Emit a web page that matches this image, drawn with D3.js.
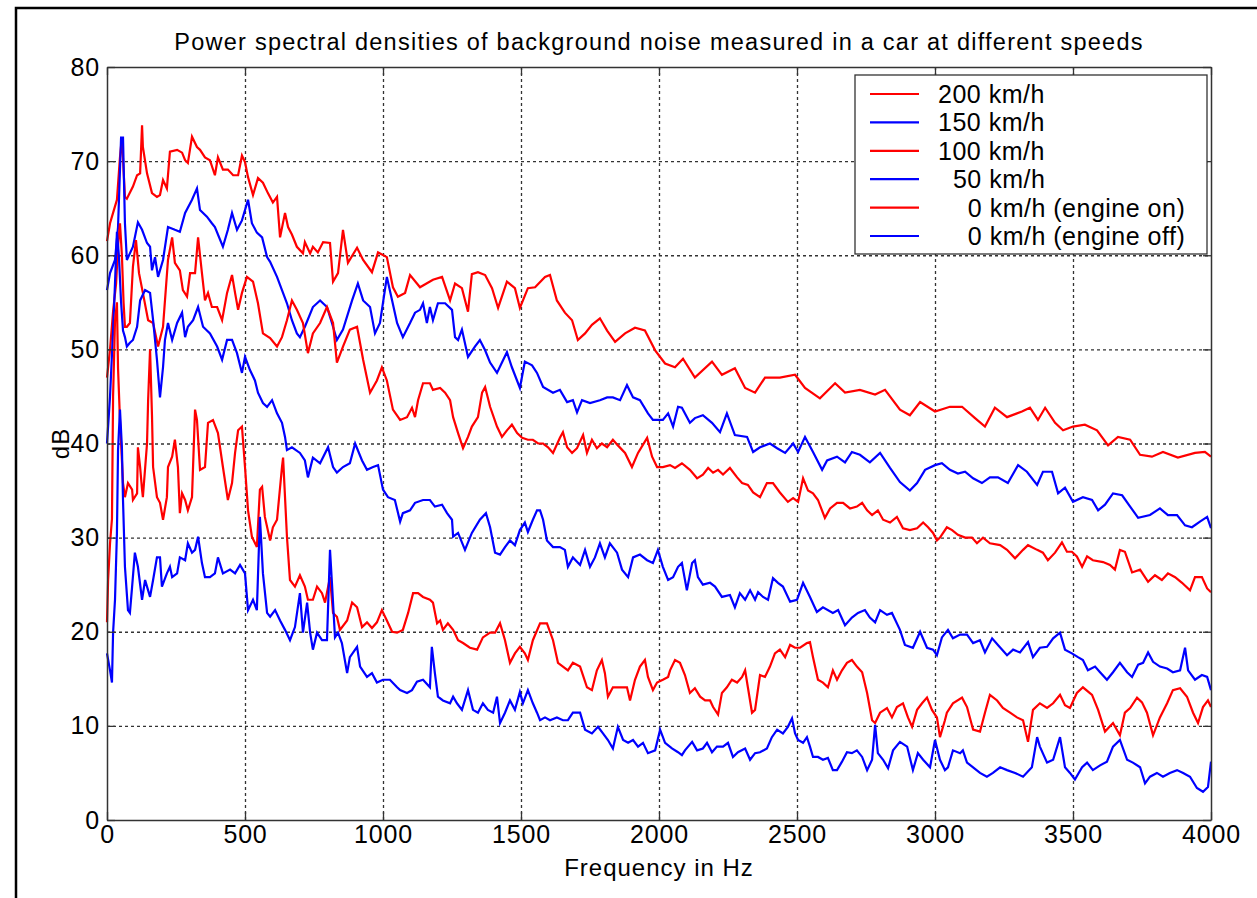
<!DOCTYPE html>
<html><head><meta charset="utf-8">
<script src="https://cdn.jsdelivr.net/npm/d3@7"></script>
<style>
body{margin:0;background:#fff;}
svg text{font-family:"Liberation Sans",Arial,sans-serif;fill:#000;}
</style></head>
<body>
<svg id="chart" width="1257" height="898"></svg>
<script>
const title = "Power spectral densities of background noise measured in a car at different speeds";
const xLabel = "Frequency in Hz";
const yLabel = "dB";
const xTicks = [0,500,1000,1500,2000,2500,3000,3500,4000];
const yTicks = [0,10,20,30,40,50,60,70,80];
const seriesLabels = ["200 km/h","150 km/h","100 km/h","  50 km/h","    0 km/h (engine on)","    0 km/h (engine off)"];
const seriesColors = ["#ff0000","#0000ff","#ff0000","#0000ff","#ff0000","#0000ff"];

const s200 = [[0,61.5],[11,63.4],[22,64.5],[36,65.9],[47,70.4],[54,72.5],[65,66.2],[72,66],[94,67.3],[109,68.5],[120,68.7],[127,73.8],[130,71.5],[145,68.7],[163,66.6],[181,66.2],[192,66.4],[203,68],[217,67.1],[228,71],[254,71.2],[272,70.9],[283,70.1],[293,69.8],[308,72.6],[326,71.5],[337,71.2],[355,70.4],[373,70.1],[391,68.5],[402,70.4],[420,69.1],[438,69.1],[457,68.5],[475,68.5],[489,70.6],[500,69.9],[511,68.3],[529,66.4],[547,68.2],[565,67.7],[583,66.6],[601,65.6],[616,66.2],[627,61.9],[645,64.5],[656,63],[670,62.2],[688,60.9],[710,60.2],[717,61.4],[736,60.2],[746,60.9],[764,60.3],[783,61.4],[808,61.3],[819,57.2],[837,58.1],[855,62.7],[873,59.2],[906,60.8],[928,59.5],[960,58.2],[982,60.3],[1014,59.8],[1036,56.6],[1054,55.6],[1080,56],[1098,57.9],[1123,57],[1134,56.6],[1181,57.4],[1214,57.7],[1243,55.2],[1261,57],[1286,56.5],[1308,54],[1322,58],[1344,58.2],[1370,57.9],[1395,56.5],[1417,54.4],[1449,57.2],[1478,56.5],[1496,54.4],[1525,56.5],[1551,56.6],[1587,57.7],[1605,57.9],[1630,55.2],[1659,53.9],[1685,53.1],[1706,51],[1732,51.7],[1757,52.6],[1786,53.3],[1812,52],[1841,50.8],[1877,51.7],[1913,52.3],[1949,52],[1986,49.9],[2022,48.5],[2058,48.1],[2087,49],[2130,47],[2192,48.7],[2228,47.3],[2275,48],[2312,45.9],[2348,45.4],[2384,47],[2438,47],[2493,47.3],[2529,45.9],[2583,44.8],[2638,46.4],[2674,45.4],[2728,45.7],[2783,45.2],[2819,45.7],[2873,43.6],[2909,43],[2946,44.4],[3000,43.4],[3054,43.9],[3098,43.9],[3145,42.7],[3181,41.8],[3217,43.8],[3261,42.8],[3315,43.4],[3344,43.8],[3373,42.5],[3399,43.8],[3435,42.2],[3464,41.4],[3500,41.8],[3543,42],[3587,41.4],[3627,39.8],[3663,40.7],[3707,40.4],[3743,38.8],[3786,38.6],[3826,39.1],[3880,38.5],[3942,39],[3978,39.1],[4000,38.6]];

const s150 = [[0,56.3],[11,58.1],[29,59.5],[40,63],[51,72.5],[58,72.5],[65,63.4],[72,59.5],[83,60.2],[94,60.9],[112,63.5],[127,62.7],[145,61.3],[156,60.9],[163,58.4],[174,59.8],[185,57.7],[203,59.5],[221,63],[246,62.7],[264,62.5],[283,64.5],[308,65.9],[326,67.1],[337,64.8],[362,64.1],[380,63.4],[391,63],[420,60.9],[438,62.7],[453,64.5],[471,62.7],[489,63.7],[511,65.9],[525,63.4],[543,62.4],[562,61.9],[580,59.8],[591,59.3],[616,57.7],[634,56.3],[652,54.9],[670,53.1],[688,51.7],[699,51.3],[717,52.4],[746,54.5],[772,55.2],[797,54.5],[815,52.8],[833,51],[855,52.1],[888,55.2],[909,57],[928,55.2],[953,54.5],[971,51.7],[989,52.8],[1014,57.7],[1033,55.2],[1051,52.8],[1072,51.3],[1098,52.8],[1116,53.9],[1134,54.2],[1145,54.9],[1159,52.8],[1170,54.5],[1181,53.1],[1199,54.9],[1225,54.9],[1250,54.2],[1261,51.3],[1272,51],[1286,52.1],[1308,49.2],[1333,50.3],[1351,51],[1370,49.9],[1388,48.6],[1413,47.5],[1431,48.6],[1449,49.7],[1467,48.1],[1496,45.9],[1514,48.7],[1540,48.3],[1558,47.5],[1580,46],[1616,45.4],[1641,45.7],[1667,44.4],[1688,44.6],[1703,43.3],[1721,44.6],[1750,44.3],[1786,44.6],[1812,44.9],[1833,44.9],[1859,44.6],[1884,46.2],[1906,44.9],[1931,44.6],[1960,43.2],[1978,42.5],[2014,42.5],[2033,43.2],[2051,41.8],[2069,43.9],[2083,43.8],[2112,42.2],[2130,42.7],[2159,43],[2192,42.2],[2221,41.2],[2246,43.2],[2275,40.9],[2319,40.7],[2341,39.1],[2366,39.6],[2402,40],[2428,39.5],[2457,39],[2486,40],[2504,39.1],[2529,40.7],[2558,39.1],[2591,37.2],[2609,38.2],[2645,38.6],[2674,38],[2699,39.1],[2728,38.8],[2764,38],[2801,39],[2837,37.4],[2873,35.9],[2909,35],[2935,35.8],[2964,37.2],[3000,37.7],[3025,37.9],[3054,37.2],[3083,36.8],[3109,37],[3138,36.3],[3170,35.8],[3199,36.4],[3228,36.4],[3264,35.8],[3301,37.7],[3333,37],[3370,35.6],[3391,37],[3424,37],[3446,34.7],[3471,35.3],[3500,33.8],[3536,34.3],[3569,34],[3591,32.9],[3616,33.5],[3645,34.7],[3678,34.5],[3707,33.3],[3736,32.1],[3779,32.4],[3815,33.1],[3844,32.4],[3877,32.4],[3906,31.3],[3931,31.1],[3960,31.7],[3986,32.2],[4000,31]];

const s100 = [[0,47],[11,50],[22,54],[33,57],[40,61],[47,63.4],[54,60],[60,55],[65,52.4],[72,52.4],[83,52.8],[94,58.8],[105,61.6],[116,58.1],[130,56],[149,53.1],[167,52.8],[185,50.3],[203,52.4],[221,59.5],[236,61.9],[246,59.2],[264,58.4],[275,56.3],[290,55.6],[301,58.1],[319,58.1],[330,61.9],[344,58.1],[355,55.2],[366,56],[380,54.5],[399,54.5],[417,53.1],[435,56],[453,57.9],[464,56],[475,54.2],[489,56],[507,57.7],[529,57.2],[547,54.9],[565,51.7],[591,51.2],[616,50.3],[634,51.3],[652,53.1],[670,55.2],[688,54.2],[710,52.8],[728,49.6],[746,51.7],[772,52.8],[797,54.5],[819,52.8],[833,48.6],[855,50.3],[880,52.1],[906,52.4],[928,48.9],[953,45.4],[978,46.7],[996,48.1],[1014,46.7],[1036,43.6],[1062,42.5],[1087,42.8],[1105,43.8],[1116,42.8],[1127,44.6],[1145,46.4],[1170,46.4],[1181,45.7],[1207,45.9],[1225,45.4],[1243,44.6],[1254,42.8],[1272,41.1],[1290,39.5],[1308,40.7],[1322,41.8],[1344,42.8],[1359,45.4],[1370,46],[1388,43.9],[1413,41.8],[1431,40.7],[1449,41.4],[1467,42],[1486,41.1],[1504,40.6],[1525,40.4],[1543,40.4],[1562,40],[1580,40],[1598,39.6],[1616,39],[1641,40.6],[1652,41.2],[1667,39.6],[1685,39],[1703,39.5],[1725,40.9],[1739,39],[1757,40.4],[1775,39.5],[1793,40],[1812,39.6],[1833,40.4],[1851,39.8],[1877,39],[1902,37.5],[1924,39],[1957,40.6],[1975,38.6],[1993,37.5],[2014,37.5],[2040,37.7],[2058,37.4],[2083,37.9],[2112,37.2],[2138,36.3],[2159,36.7],[2178,37.4],[2196,36.9],[2214,37.2],[2232,36.7],[2257,37.4],[2283,36.4],[2301,35.8],[2322,35.6],[2341,34.8],[2366,34.3],[2391,35.8],[2413,35.8],[2438,34.8],[2467,33.8],[2486,34.2],[2504,33.8],[2522,36.3],[2540,35],[2558,34.7],[2576,34],[2601,32.1],[2620,33.1],[2645,33.7],[2667,33.7],[2692,33.1],[2717,33.3],[2736,33.7],[2754,32.9],[2772,32.4],[2793,32.9],[2812,31.9],[2837,31.6],[2862,32.2],[2884,31],[2909,30.8],[2935,31],[2957,31.6],[2975,31.1],[2993,30.5],[3007,29.7],[3018,30],[3043,31.1],[3062,30.8],[3083,30.3],[3109,30],[3134,30],[3152,29.4],[3174,30],[3199,29.4],[3236,29.2],[3261,28.7],[3290,27.8],[3319,28.7],[3337,29.2],[3370,28.7],[3391,28.4],[3409,27.6],[3435,28.4],[3460,29.5],[3478,28.5],[3496,28.5],[3514,28],[3533,26.9],[3551,28],[3572,27.6],[3609,27.4],[3634,27.1],[3652,26.6],[3670,28.7],[3688,28.5],[3714,26.3],[3743,26.6],[3772,25.3],[3797,26],[3822,25.5],[3844,26.2],[3870,25.8],[3895,25.2],[3924,24.4],[3942,25.8],[3967,25.8],[3986,24.6],[4000,24.2]];

const s50 = [[0,40],[11,45],[22,52],[29,57],[36,62.5],[43,60],[51,55],[58,52],[65,51.3],[72,50.3],[83,50.7],[94,51],[109,52.4],[120,55.2],[138,56.3],[156,56],[167,53.1],[181,48.9],[192,44.9],[203,48.1],[210,51],[221,52.8],[236,51],[254,52.8],[272,53.9],[283,51.3],[293,52.4],[312,53.1],[330,54.5],[348,52.4],[373,51.7],[399,50.3],[417,48.9],[435,51],[453,51],[471,49.6],[489,47.5],[500,49.2],[518,47.8],[536,46.7],[547,45.4],[565,44.3],[580,43.9],[598,44.6],[616,43.2],[634,42.2],[645,40.7],[652,39.3],[670,39.6],[699,39],[717,38.2],[728,36.4],[746,38.5],[772,37.9],[801,39.6],[819,37.5],[833,36.9],[855,37.5],[880,37.9],[899,40],[924,38.2],[942,37.2],[964,37.5],[982,37.7],[1000,35.1],[1018,34.3],[1043,34],[1062,31.7],[1072,32.6],[1098,32.9],[1116,33.7],[1145,34],[1170,34],[1188,33.3],[1214,33.5],[1232,32.6],[1250,31.9],[1254,30.1],[1272,30.5],[1297,28.7],[1322,30.5],[1351,31.9],[1373,32.6],[1388,31.1],[1406,28.4],[1424,28.2],[1442,29],[1460,29.7],[1478,29.2],[1496,30.8],[1514,31.6],[1525,30.6],[1543,31.9],[1558,32.9],[1569,32.9],[1580,31.9],[1594,29.7],[1616,29],[1641,29],[1659,28.7],[1670,26.9],[1688,27.9],[1714,27.1],[1732,28.7],[1750,26.9],[1768,27.9],[1786,29.4],[1804,27.9],[1822,29.4],[1848,28.4],[1866,26.6],[1888,25.8],[1906,27.9],[1931,28.2],[1957,27.6],[1978,27.3],[1996,28.7],[2014,26.9],[2033,25.5],[2051,25.8],[2069,26.9],[2083,27.3],[2101,24.4],[2120,27.3],[2130,27.6],[2141,25.8],[2159,25],[2185,25.2],[2203,24.8],[2228,23.7],[2257,23.9],[2275,22.6],[2293,24.1],[2312,23.4],[2330,24.4],[2348,23.4],[2359,24.2],[2377,23.7],[2395,23.4],[2413,25.7],[2431,25.2],[2449,24.8],[2475,23.2],[2500,23.4],[2522,25.2],[2547,23.7],[2572,22.1],[2594,22.6],[2630,22],[2649,22.3],[2674,20.7],[2699,21.5],[2721,22],[2746,22.3],[2764,21.5],[2783,21],[2801,22.3],[2826,21.8],[2844,22],[2873,20.2],[2891,18.6],[2920,18.3],[2946,20],[2971,18.3],[2993,18.1],[3007,17.5],[3025,19.4],[3047,20.2],[3065,19.3],[3091,19.7],[3116,19.7],[3138,18.8],[3163,19.1],[3181,17.8],[3207,19.3],[3228,18.6],[3261,17.5],[3283,18.1],[3308,17.8],[3337,18.9],[3355,17.3],[3380,18.3],[3406,18.4],[3428,19.3],[3453,19.9],[3471,18.1],[3496,17.7],[3518,17.3],[3536,17],[3554,15.9],[3580,16.3],[3598,15.7],[3623,14.9],[3645,15.7],[3670,16.7],[3696,15.7],[3714,15.2],[3736,16.5],[3754,16.7],[3772,17.8],[3790,16.8],[3815,16.3],[3841,16.1],[3862,15.7],[3888,15.9],[3906,18.3],[3917,15.9],[3942,14.9],[3967,15.4],[3986,15.2],[4000,13.8]];

const s0on = [[0,21],[4,25.5],[11,29.4],[18,32],[22,45],[29,53],[36,55],[40,48],[47,42.5],[58,35.8],[65,34.3],[76,35.8],[91,35.1],[94,34],[109,34.7],[112,39.6],[120,37.5],[127,35.1],[130,34.3],[145,40],[149,44.6],[156,50],[163,43],[167,37.5],[181,34.3],[192,33.7],[203,31.9],[217,34.3],[221,37.5],[236,38.6],[246,40.4],[257,37.5],[264,32.6],[272,34.7],[283,34],[293,32.9],[308,34.3],[319,43.6],[326,42.5],[337,37.2],[355,37.5],[366,42.2],[384,42.5],[402,41.1],[420,37.5],[438,34],[453,35.8],[464,39],[475,41.4],[489,41.8],[500,37.5],[511,32.9],[525,30.1],[543,29],[554,35.1],[562,35.4],[572,32.2],[591,29.7],[601,31.1],[616,31.9],[634,37.5],[638,38.5],[652,30.1],[663,25.5],[681,24.8],[699,26],[717,24.8],[728,23.4],[746,23.4],[761,24.8],[779,24.1],[790,23.1],[808,25.8],[819,22],[833,21.6],[844,20.2],[870,21.2],[888,23.1],[906,22.6],[924,20.5],[942,21],[960,20.4],[978,21],[996,22.3],[1014,21.2],[1033,20],[1051,19.9],[1072,20.2],[1091,22],[1109,24.1],[1127,24.1],[1145,23.7],[1170,23.4],[1181,23.1],[1196,20.9],[1207,21.2],[1217,20.2],[1235,20.9],[1254,20.2],[1272,19.1],[1290,18.8],[1315,18.3],[1341,18.1],[1362,19.4],[1388,19.9],[1406,19.9],[1424,20.9],[1442,19.1],[1460,16.7],[1478,17.7],[1496,18.4],[1514,17.7],[1525,17],[1543,19.1],[1569,20.9],[1594,20.9],[1616,19.1],[1634,16.7],[1652,16.3],[1670,15.9],[1688,16.7],[1714,16.3],[1739,14.1],[1757,13.8],[1775,15.9],[1793,17],[1804,15.6],[1815,13.1],[1833,14.1],[1884,14.1],[1895,12.7],[1913,14.9],[1931,16.3],[1949,17],[1960,15.2],[1978,13.8],[1993,14.6],[2014,14.9],[2033,15.2],[2040,15.9],[2058,17],[2076,16.7],[2094,15.4],[2112,13.5],[2130,14],[2149,13.1],[2167,12.7],[2185,12.7],[2196,12],[2214,11.2],[2228,13.5],[2246,14.1],[2264,14.9],[2283,14.6],[2301,15.2],[2312,15.9],[2322,14.1],[2337,11.4],[2348,11.7],[2366,15.4],[2384,15.2],[2402,16.3],[2420,17.7],[2438,18.1],[2457,17.3],[2475,18.6],[2493,18.3],[2511,18.3],[2536,18.8],[2547,18.9],[2558,17.3],[2576,14.9],[2594,14.6],[2612,14.1],[2630,15.9],[2645,14.9],[2663,15.9],[2681,16.7],[2699,17],[2717,16.3],[2736,15.7],[2754,13.5],[2772,10.6],[2783,10.3],[2801,11.4],[2826,11.9],[2844,10.9],[2862,12],[2884,12.4],[2902,10.9],[2917,9.9],[2935,11.7],[2953,12.4],[2971,13],[2989,11.7],[3007,10.9],[3018,8.8],[3036,10.6],[3043,11.4],[3065,12.4],[3098,13],[3116,12],[3138,9.6],[3163,9.4],[3181,11.4],[3199,13.3],[3225,12.7],[3246,11.9],[3272,11.4],[3297,10.9],[3319,10.6],[3337,8.3],[3355,11.7],[3380,12.4],[3406,11.9],[3428,12.4],[3453,13.3],[3471,12.2],[3489,11.9],[3514,13.5],[3536,14.1],[3569,13.3],[3591,11.7],[3616,9.4],[3645,10.3],[3670,9],[3688,11.4],[3707,11.9],[3732,13],[3750,12.5],[3768,11.4],[3790,9],[3815,10.9],[3841,12.4],[3862,13.8],[3888,14],[3913,13.1],[3935,11.4],[3953,10.3],[3971,12],[3989,12.7],[4000,12]];

const s0off = [[0,17.7],[11,15.9],[18,14.6],[22,19.9],[29,23.4],[36,30.5],[40,39.3],[47,43.6],[54,39.6],[58,34],[65,26.9],[76,22.3],[83,22],[91,24.8],[101,28.4],[112,26.9],[127,23.4],[138,25.5],[149,24.4],[156,23.7],[167,25.5],[181,27.9],[192,27.9],[199,24.8],[217,26.2],[228,26.9],[236,25.8],[254,26.2],[264,27.9],[283,27.6],[293,29.4],[308,28.4],[319,28.7],[330,30.1],[344,27.3],[355,25.8],[373,25.8],[391,26.2],[402,27.9],[420,26.2],[446,26.6],[464,26.2],[482,27.1],[500,26.2],[511,22.3],[529,23.4],[543,22.3],[554,32.2],[565,26.2],[580,22],[591,21.6],[609,22.3],[627,21.2],[645,20.2],[663,19.1],[681,20.5],[699,24.1],[710,19.9],[725,23.1],[736,19.9],[746,18.1],[761,19.9],[779,19.1],[797,19.1],[808,28.7],[815,25.2],[826,19.4],[837,19.9],[851,18.8],[870,15.6],[880,17.3],[906,18.4],[917,16.3],[942,15.2],[960,15.6],[978,14.6],[1000,14.9],[1025,14.9],[1051,14.1],[1062,13.8],[1087,13.5],[1105,13.8],[1123,14.7],[1145,14.9],[1170,14.1],[1177,18.4],[1188,15.6],[1199,13.1],[1217,12.7],[1243,12.4],[1254,13.1],[1268,12.4],[1286,11.7],[1308,13.8],[1326,11.7],[1344,11.4],[1362,12.4],[1380,11.7],[1399,11.4],[1413,13.1],[1424,10.3],[1442,11.4],[1460,12.7],[1478,11.7],[1496,13.6],[1507,12.4],[1525,13.8],[1543,12.4],[1558,11.4],[1569,10.6],[1587,10.9],[1605,10.6],[1630,10.9],[1652,10.6],[1670,10.6],[1688,11.4],[1714,11.4],[1732,9.6],[1757,9.2],[1779,9.9],[1797,9.2],[1815,8.5],[1833,7.6],[1851,9.9],[1870,8.5],[1888,8.2],[1906,8.5],[1924,7.8],[1942,8.2],[1960,7.1],[1986,7.4],[2004,9.6],[2022,8.2],[2047,7.6],[2069,7.2],[2083,6.9],[2094,7.4],[2120,8.3],[2138,7.4],[2159,7.6],[2174,8.2],[2192,7.2],[2210,7.8],[2232,7.8],[2250,8.2],[2268,6.7],[2286,7.2],[2312,7.6],[2330,6.4],[2348,7.1],[2366,7.2],[2391,7.6],[2409,8.8],[2428,9.6],[2449,9.2],[2467,9.9],[2482,10.8],[2493,9.2],[2504,8.5],[2522,8.2],[2536,8.8],[2547,7.8],[2558,6.7],[2576,6.7],[2594,6.4],[2612,6.6],[2630,5.3],[2645,5.3],[2663,6.2],[2681,7.2],[2699,7.1],[2717,7.4],[2736,6.7],[2754,5.3],[2772,6.4],[2783,10.1],[2793,7.1],[2812,6.4],[2830,5.5],[2848,7.4],[2873,8.3],[2899,7.8],[2920,5.3],[2938,7.1],[2957,6.4],[2982,5.6],[3000,8.5],[3018,6.4],[3036,5.3],[3047,5.6],[3065,7.4],[3091,7.1],[3101,7.4],[3116,6.1],[3138,5.6],[3163,5],[3188,4.6],[3210,5],[3236,5.6],[3261,5.3],[3290,5],[3319,4.6],[3351,5.6],[3370,8.8],[3380,7.8],[3406,6.1],[3428,6.4],[3453,8.8],[3471,5.6],[3489,5],[3507,4.3],[3533,5.6],[3551,6.1],[3572,5.3],[3598,5.8],[3623,6.2],[3645,7.8],[3670,8.5],[3696,6.4],[3717,6.1],[3743,5.6],[3761,3.9],[3779,4.6],[3804,5],[3826,4.6],[3851,5],[3877,5.3],[3899,5],[3924,4.6],[3949,3.4],[3971,3],[3989,3.5],[4000,6.2]];

const allSeries = [s200, s150, s100, s50, s0on, s0off];

const svg = d3.select("#chart");
const L = 107, R = 1211, T = 67, B = 820;
const x = d3.scaleLinear().domain([0,4000]).range([L,R]);
const y = d3.scaleLinear().domain([0,80]).range([B,T]);

// figure frame
svg.append("rect").attr("x",16).attr("y",8).attr("width",1400).attr("height",1000)
  .attr("fill","none").attr("stroke","#000").attr("stroke-width",2.5);

// plot background
svg.append("rect").attr("x",L).attr("y",T).attr("width",R-L).attr("height",B-T).attr("fill","#fff");

// grid
const gridX = svg.append("g").attr("transform",`translate(0,${B})`)
  .call(d3.axisBottom(x).tickValues(xTicks.filter(d=>d>0&&d<4000)).tickSize(-(B-T)).tickFormat(""));
gridX.select(".domain").remove();
gridX.selectAll("line").attr("stroke","#333").attr("stroke-width",1.3).attr("stroke-dasharray","3,3");
const gridY = svg.append("g").attr("transform",`translate(${L},0)`)
  .call(d3.axisLeft(y).tickValues(yTicks.filter(d=>d>0&&d<80)).tickSize(-(R-L)).tickFormat(""));
gridY.select(".domain").remove();
gridY.selectAll("line").attr("stroke","#333").attr("stroke-width",1.3).attr("stroke-dasharray","3,3");

// series
const line = d3.line().x(d=>x(d[0])).y(d=>y(d[1]));
allSeries.forEach((s,i)=>{
  svg.append("path").datum(s).attr("d",line).attr("fill","none")
    .attr("stroke",seriesColors[i]).attr("stroke-width",2.2).attr("stroke-linejoin","miter");
});

// axes with inward ticks
const tickLen = 8;
function styleAxis(g){
  g.select(".domain").attr("stroke","#333").attr("stroke-width",1.5);
  g.selectAll(".tick line").attr("stroke","#333").attr("stroke-width",1.3);
  g.selectAll("text").attr("font-size","25px").attr("letter-spacing","0.8px")
   .attr("font-family","'Liberation Sans', Arial, sans-serif").attr("fill","#000");
}
const ax = svg.append("g").attr("transform",`translate(0,${B})`)
  .call(d3.axisBottom(x).tickValues(xTicks).tickSizeInner(-tickLen).tickSizeOuter(0).tickPadding(5).tickFormat(d3.format("d")));
styleAxis(ax);
const axT = svg.append("g").attr("transform",`translate(0,${T})`)
  .call(d3.axisTop(x).tickValues(xTicks).tickSizeInner(-tickLen).tickSizeOuter(0).tickFormat(""));
styleAxis(axT);
const ay = svg.append("g").attr("transform",`translate(${L},0)`)
  .call(d3.axisLeft(y).tickValues(yTicks).tickSizeInner(-tickLen).tickSizeOuter(0).tickPadding(7).tickFormat(d3.format("d")));
styleAxis(ay);
const ayR = svg.append("g").attr("transform",`translate(${R},0)`)
  .call(d3.axisRight(y).tickValues(yTicks).tickSizeInner(-tickLen).tickSizeOuter(0).tickFormat(""));
styleAxis(ayR);

// title and labels
svg.append("text").attr("x",(L+R)/2).attr("y",50).attr("text-anchor","middle")
  .attr("font-size","23.5px").attr("letter-spacing","1.25px").text(title);
svg.append("text").attr("x",(L+R)/2).attr("y",876).attr("text-anchor","middle")
  .attr("font-size","24px").attr("letter-spacing","1px").text(xLabel);
svg.append("text").attr("transform",`translate(69,${(T+B)/2}) rotate(-90)`).attr("text-anchor","middle")
  .attr("font-size","24px").attr("letter-spacing","1px").text(yLabel);

// legend
const lg = svg.append("g");
lg.append("rect").attr("x",855).attr("y",75).attr("width",352).attr("height",179)
  .attr("fill","#fff").attr("stroke","#333").attr("stroke-width",1.3);
seriesLabels.forEach((lab,i)=>{
  const cy = 94 + i*28.4;
  lg.append("line").attr("x1",870).attr("x2",919).attr("y1",cy).attr("y2",cy)
    .attr("stroke",seriesColors[i]).attr("stroke-width",2.2);
  lg.append("text").attr("x",938).attr("y",cy).attr("dy","0.36em")
    .attr("font-size","25px").attr("letter-spacing","0.5px")
    .style("white-space","pre").text(lab);
});
</script>
</body></html>
